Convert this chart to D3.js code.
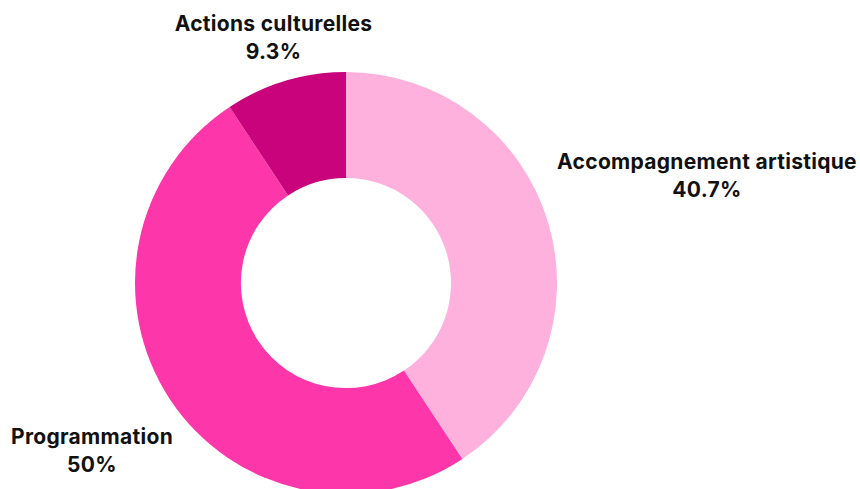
<!DOCTYPE html>
<html>
<head>
<meta charset="utf-8">
<script src="https://cdn.jsdelivr.net/npm/d3@7"></script>
<style>
html,body{margin:0;padding:0;background:#fff;}
svg{display:block;}
text{font-family:Inter, "DejaVu Sans", sans-serif;font-weight:700;fill:#111;}
</style>
</head>
<body>
<svg id="chart" width="860" height="489"></svg>
<script>
const categories = ["Accompagnement artistique", "Programmation", "Actions culturelles"];
const values = [40.7, 50, 9.3];
const valueLabels = ["40.7%", "50%", "9.3%"];
const colors = ["#ffb1dd", "#fd36a9", "#c9037b"];

const svg = d3.select("#chart");
const cx = 346, cy = 283, rOuter = 211, rInner = 105;
const data = categories.map((c, i) => ({cat: c, value: values[i], label: valueLabels[i], color: colors[i]}));

const pie = d3.pie().value(d => d.value).sort(null);
const arc = d3.arc().innerRadius(rInner).outerRadius(rOuter);
const arcs = pie(data);

const g = svg.append("g").attr("transform", `translate(${cx},${cy})`);
g.selectAll("path").data(arcs).enter().append("path")
  .attr("d", arc)
  .attr("fill", d => d.data.color);

// label positions (centre x / first baseline, relative to chart centre)
const labelPos = [[361, -114], [-254, 161], [-72.5, -252]];
const lg = g.selectAll("g.lab").data(arcs).enter().append("g")
  .attr("class", "lab")
  .attr("transform", (d, i) => `translate(${labelPos[i][0]},${labelPos[i][1]})`);
lg.append("text").attr("text-anchor", "middle").attr("font-size", 21).attr("letter-spacing", 0.3).attr("y", 0).text(d => d.data.cat);
lg.append("text").attr("text-anchor", "middle").attr("font-size", 21).attr("letter-spacing", 0.3).attr("y", 28).text(d => d.data.label);
</script>
</body>
</html>
